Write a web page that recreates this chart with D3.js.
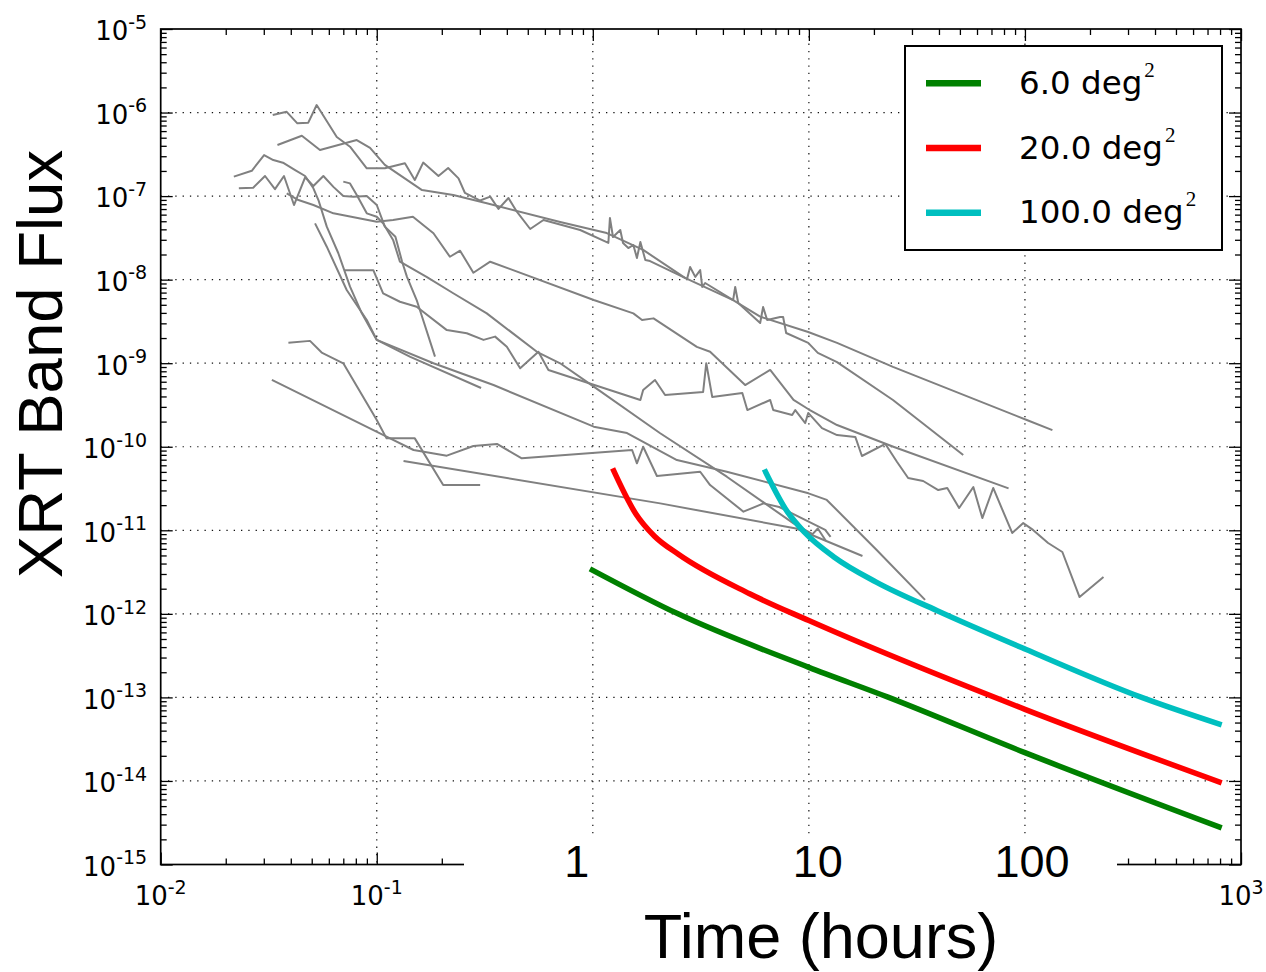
<!DOCTYPE html>
<html><head><meta charset="utf-8">
<script src="https://cdn.jsdelivr.net/npm/d3@7"></script>
<style>html,body{margin:0;padding:0;background:#fff;}svg{display:block}</style>
</head><body>
<svg id="chart" width="1266" height="972"></svg>
<script>
// ---------------- DATA (time in hours, flux) ----------------
const xTickExps = [-2, -1, 0, 1, 2, 3];
const xLabelExps = [-2, -1, 3];           // exponent labels left visible
const yTickExps = [-15, -14, -13, -12, -11, -10, -9, -8, -7, -6, -5];
const hourLabels = ["1", "10", "100"];
const hourValues = [1, 10, 100];

const lcA = [[0.0330,9.35e-7],[0.0383,1.02e-6],[0.0429,7.43e-7],[0.0482,7.57e-7],[0.0527,1.23e-6],[0.0653,5.09e-7],[0.0752,3.90e-7],[0.0899,2.15e-7],[0.109,2.15e-7],[0.135,2.47e-7],[0.150,1.56e-7],[0.164,2.52e-7],[0.193,1.74e-7],[0.214,2.17e-7],[0.239,1.63e-7],[0.256,1.09e-7],[0.301,8.85e-8],[0.335,9.84e-8],[0.366,7.02e-8],[0.407,9.48e-8],[0.445,6.50e-8],[0.513,4.04e-8],[0.591,5.18e-8],[0.874,3.93e-8],[1.18,2.75e-8],[1.20,5.47e-8],[1.24,3.24e-8],[1.34,3.93e-8],[1.38,2.75e-8],[1.46,2.39e-8],[1.54,2.60e-8],[1.60,1.82e-8],[1.66,2.82e-8],[1.75,1.72e-8],[1.84,1.67e-8],[2.73,1.02e-8],[2.82,1.42e-8],[2.98,1.08e-8],[3.14,1.30e-8],[3.21,8.17e-9],[3.31,9.12e-9],[4.46,5.70e-9],[4.56,8.17e-9],[4.71,5.26e-9],[5.95,3.03e-9],[6.14,4.71e-9],[6.41,3.29e-9],[7.36,3.57e-9],[7.60,3.57e-9],[7.85,2.30e-9],[9.93,1.75e-9],[11.0,1.33e-9],[13.5,1.03e-9],[24.5,3.63e-10],[51.8,7.96e-11]];
const lcB = [[0.0347,4.09e-7],[0.0450,5.28e-7],[0.0546,3.56e-7],[0.0808,4.69e-7],[0.0931,3.77e-7],[0.109,2.36e-7],[0.162,1.18e-7],[0.226,1.03e-7],[0.323,8.20e-8],[0.706,4.90e-8],[1.16,3.61e-8],[1.71,2.27e-8],[2.67,1.05e-8],[4.46,5.70e-9],[5.95,3.61e-9],[9.93,2.36e-9],[13.5,1.75e-9],[24.5,9.02e-10],[102,2.09e-10],[134,1.58e-10]];
const lcC = [[0.0218,1.71e-7],[0.0264,2.01e-7],[0.0301,3.10e-7],[0.0332,2.70e-7],[0.0368,2.51e-7],[0.0419,2.05e-7],[0.0466,1.74e-7],[0.0509,1.24e-7],[0.0537,8.97e-8],[0.0587,4.31e-8],[0.0664,2.07e-8],[0.0752,8.24e-9],[0.0853,3.95e-9],[0.100,1.90e-9],[0.183,9.98e-10],[0.347,5.48e-10],[1.01,1.74e-10],[1.44,1.46e-10],[2.45,6.93e-11],[4.17,5.02e-11],[9.96,2.77e-11],[12.1,2.31e-11],[20.6,5.81e-12],[34.5,1.47e-12]];
const lcD = [[0.0230,1.24e-7],[0.0268,1.26e-7],[0.0304,1.74e-7],[0.0338,1.21e-7],[0.0372,1.74e-7],[0.0414,7.82e-8],[0.0466,1.68e-7],[0.0509,1.32e-7],[0.0566,1.74e-7],[0.0630,1.29e-7],[0.0700,1.00e-7],[0.0780,9.84e-8],[0.0899,1.00e-7],[0.100,7.82e-8],[0.109,4.31e-8],[0.122,3.27e-8],[0.131,1.64e-8],[0.138,1.08e-8],[0.153,5.70e-9],[0.186,1.20e-9]];
const lcE = [[0.0700,1.49e-7],[0.0752,1.42e-7],[0.0808,1.03e-7],[0.0899,6.22e-8],[0.100,5.66e-8],[0.107,4.72e-8],[0.119,2.99e-8],[0.128,1.64e-8],[0.170,1.08e-8],[0.226,6.87e-9],[0.323,3.95e-9],[0.551,1.37e-9],[0.706,9.98e-10],[1.01,5.24e-10],[2.05,1.45e-10],[4.17,4.38e-11],[8.49,1.21e-11],[10.4,9.0e-12],[11.0,1.05e-11],[12.0,7.44e-12]];
const lcF = [[0.0390,1.76e-9],[0.0491,1.85e-9],[0.0556,1.34e-9],[0.0700,9.98e-10],[0.100,2.09e-10],[0.111,1.26e-10],[0.150,1.26e-10],[0.203,3.48e-11],[0.301,3.48e-11]];
const lcG = [[0.0327,6.30e-10],[0.111,1.32e-10],[0.148,9.14e-11],[0.211,7.82e-11],[0.280,1.02e-10],[0.360,1.08e-10],[0.469,7.28e-11],[1.52,9.14e-11],[1.60,6.34e-11],[1.71,1.00e-10],[1.98,4.47e-11],[3.14,5.02e-11],[3.49,3.48e-11],[4.98,1.67e-11],[6.17,2.10e-11],[7.29,1.90e-11],[11.9,1.01e-11],[12.6,8.32e-12]];
const lcH = [[0.133,6.75e-11],[2.05,2.10e-11],[8.73,1.05e-11],[17.7,4.92e-12]];
const lcI = [[0.0383,1.08e-7],[0.0434,8.97e-8],[0.0509,7.82e-8],[0.0630,6.22e-8],[0.100,4.94e-8],[0.119,5.18e-8],[0.147,5.66e-8],[0.183,3.59e-8],[0.218,1.88e-8],[0.243,2.22e-8],[0.280,1.21e-8],[0.335,1.64e-8],[1.01,5.70e-9],[1.54,3.95e-9],[1.69,3.29e-9],[1.91,3.44e-9],[3.03,1.57e-9],[3.49,1.37e-9],[5.07,5.48e-10],[6.62,8.30e-10],[8.49,3.63e-10],[9.96,2.81e-10],[13.5,1.82e-10],[24.6,1.00e-10],[84.0,3.18e-11]];
const lcJ = [[0.0713,1.30e-8],[0.0964,1.30e-8],[0.107,6.87e-9],[0.128,5.44e-9],[0.153,4.74e-9],[0.211,2.49e-9],[0.261,2.28e-9],[0.312,1.90e-9],[0.353,2.08e-9],[0.400,1.57e-9],[0.461,8.69e-10],[0.560,1.37e-9],[0.623,8.30e-10],[1.66,3.63e-10],[1.71,4.78e-10],[1.94,6.30e-10],[2.16,4.16e-10],[3.24,4.52e-10],[3.35,1.00e-9],[3.57,3.94e-10],[4.92,4.40e-10],[5.19,2.75e-10],[6.62,3.63e-10],[6.84,2.75e-10],[8.37,2.40e-10],[8.65,2.75e-10],[9.62,1.92e-10],[9.93,2.54e-10],[11.5,1.67e-10],[13.5,1.38e-10],[16.4,1.31e-10],[17.6,7.75e-11],[22.6,1.08e-10],[25.6,6.56e-11],[28.8,4.23e-11],[33.8,3.89e-11],[39.7,3.03e-11],[43.7,3.21e-11],[49.6,1.85e-11],[57.7,3.30e-11],[63.5,1.40e-11],[71.3,3.21e-11],[87.3,9.29e-12],[98.2,1.22e-11],[109,1.01e-11],[128,7.05e-12],[149,5.50e-12],[179,1.59e-12],[231,2.76e-12]];
const lcK = [[0.0518,4.72e-8],[0.0587,2.48e-8],[0.0726,7.52e-9],[0.0899,3.29e-9],[0.100,1.90e-9],[0.143,1.19e-9],[0.304,5.05e-10]];

const modelNames = ["6.0 deg", "20.0 deg", "100.0 deg"];
const model6_t   = [0.97, 2.48, 10, 23.4, 100, 814];
const model6_f   = [3.46e-12, 1.0e-12, 2.29e-13, 1.0e-13, 2.18e-14, 2.74e-15];
const model20_t  = [1.235, 1.58, 1.93, 2.48, 5.32, 10, 100, 814];
const model20_f  = [5.5e-11, 1.58e-11, 8.5e-12, 5.2e-12, 1.74e-12, 8.3e-13, 7.2e-14, 9.5e-15];
const model100_t = [6.22, 7.96, 9.53, 13.06, 20.5, 39.3, 100, 347, 814];
const model100_f = [5.36e-11, 1.66e-11, 9.5e-12, 4.8e-12, 2.4e-12, 1.09e-12, 3.8e-13, 1.0e-13, 4.69e-14];

// ---------------- LAYOUT ----------------
const X0 = 160.7, X1 = 1241, Y0 = 29, Y1 = 864.5;
const colors = ["#008000", "#ff0000", "#00bfbf"];
const svg = d3.select("#chart");
const g = svg.append("g");

const x = d3.scaleLog().domain([1e-2, 1e3]).range([X0, X1]);
const y = d3.scaleLog().domain([1e-15, 1e-5]).range([Y1, Y0]);

const majorX = xTickExps.map(e => Math.pow(10, e));
const majorY = yTickExps.map(e => Math.pow(10, e));
const minorOf = exps => { const out = []; for (let i = 0; i < exps.length - 1; i++) for (let m = 2; m <= 9; m++) out.push(m * Math.pow(10, exps[i])); return out; };
const minorX = minorOf(xTickExps), minorY = minorOf(yTickExps);

// grid
const grid = g.append("g").attr("stroke", "#111").attr("stroke-width", 1.2).attr("stroke-dasharray", "1.3 6");
grid.selectAll("line.gx").data(majorX.slice(1, -1)).join("line")
  .attr("x1", d => x(d)).attr("x2", d => x(d)).attr("y1", Y0).attr("y2", Y1);
grid.selectAll("line.gy").data(majorY.slice(1, -1)).join("line").attr("class","gy")
  .attr("y1", d => y(d)).attr("y2", d => y(d)).attr("x1", X0).attr("x2", X1);

// light curves
const line = d3.line().x(d => x(d[0])).y(d => y(d[1]));
const grays = [lcA, lcB, lcC, lcD, lcE, lcF, lcG, lcH, lcI, lcJ, lcK];
g.append("g").selectAll("path").data(grays).join("path")
  .attr("d", line).attr("fill", "none").attr("stroke", "#808080")
  .attr("stroke-width", 2).attr("stroke-linejoin", "round");

// models
const models = [[model6_t, model6_f], [model20_t, model20_f], [model100_t, model100_f]]
  .map(([t, f]) => t.map((v, i) => [v, f[i]]));
const mline = d3.line().x(d => x(d[0])).y(d => y(d[1])).curve(d3.curveMonotoneX);
g.append("g").selectAll("path").data(models).join("path")
  .attr("d", mline).attr("fill", "none").attr("stroke", (d, i) => colors[i])
  .attr("stroke-width", 5.5);

// axes (ticks inward, all four sides)
function addAxis(gen, tr) {
  const a = g.append("g").attr("transform", tr).call(gen);
  a.select(".domain").remove();
  a.selectAll(".tick text").remove();
  a.selectAll(".tick line").attr("stroke", "#000").attr("stroke-width", 1.3);
}
addAxis(d3.axisBottom(x).tickValues(majorX).tickSizeInner(-12).tickSizeOuter(0), `translate(0,${Y1})`);
addAxis(d3.axisBottom(x).tickValues(minorX).tickSizeInner(-6).tickSizeOuter(0), `translate(0,${Y1})`);
addAxis(d3.axisTop(x).tickValues(majorX).tickSizeInner(-12).tickSizeOuter(0), `translate(0,${Y0})`);
addAxis(d3.axisTop(x).tickValues(minorX).tickSizeInner(-6).tickSizeOuter(0), `translate(0,${Y0})`);
addAxis(d3.axisLeft(y).tickValues(majorY).tickSizeInner(-12).tickSizeOuter(0), `translate(${X0},0)`);
addAxis(d3.axisLeft(y).tickValues(minorY).tickSizeInner(-6).tickSizeOuter(0), `translate(${X0},0)`);
addAxis(d3.axisRight(y).tickValues(majorY).tickSizeInner(-12).tickSizeOuter(0), `translate(${X1},0)`);
addAxis(d3.axisRight(y).tickValues(minorY).tickSizeInner(-6).tickSizeOuter(0), `translate(${X1},0)`);

g.append("rect").attr("x", X0).attr("y", Y0).attr("width", X1 - X0).attr("height", Y1 - Y0)
  .attr("fill", "none").attr("stroke", "#000").attr("stroke-width", 1.7);

const expStr = e => (e < 0 ? "-" + (-e) : String(e));
// y tick labels
const yl = g.append("g").attr("font-family", "DejaVu Sans").attr("fill", "#000");
yTickExps.forEach(e => {
  const t = yl.append("text").attr("x", X0 - 13.5).attr("y", y(Math.pow(10, e)) + 11.3)
    .attr("text-anchor", "end").attr("font-size", 26);
  t.append("tspan").text("10");
  t.append("tspan").attr("dy", -11.5).attr("font-size", 19).text(expStr(e));
});
// x tick labels
xLabelExps.forEach(e => {
  const t = yl.append("text").attr("x", x(Math.pow(10, e))).attr("y", Y1 + 40.5)
    .attr("text-anchor", "middle").attr("font-size", 26);
  t.append("tspan").text("10");
  t.append("tspan").attr("dy", -11.5).attr("font-size", 19).text(expStr(e));
});

// white patch over part of the bottom axis, with large hour labels
g.append("rect").attr("x", 464).attr("y", 836).attr("width", 653).attr("height", 76).attr("fill", "#fff");
const hourShift = [-16, 9, 7];
g.append("g").selectAll("text").data(hourLabels).join("text")
  .attr("x", (d, i) => x(hourValues[i]) + hourShift[i]).attr("y", 877)
  .attr("text-anchor", "middle").attr("font-family", "Liberation Sans, Arial").attr("font-size", 45)
  .text(d => d);

// axis titles
g.append("text").attr("x", 821).attr("y", 958).attr("text-anchor", "middle")
  .attr("font-family", "Liberation Sans, Arial").attr("font-size", 63).text("Time (hours)");
g.append("text").attr("transform", "translate(62,364) rotate(-90)").attr("text-anchor", "middle")
  .attr("font-family", "Liberation Sans, Arial").attr("font-size", 63.5).text("XRT Band Flux");

// legend
const lg = g.append("g");
lg.append("rect").attr("x", 905).attr("y", 46).attr("width", 317).attr("height", 204)
  .attr("fill", "#fff").attr("stroke", "#000").attr("stroke-width", 2);
modelNames.forEach((name, i) => {
  const ly = 83.3 + i * 64.7;
  lg.append("line").attr("x1", 926).attr("x2", 981).attr("y1", ly).attr("y2", ly)
    .attr("stroke", colors[i]).attr("stroke-width", 6.5);
  const t = lg.append("text").attr("x", 1019).attr("y", ly + 10.7)
    .attr("font-family", "DejaVu Sans").attr("font-size", 32.5).attr("fill", "#000");
  t.append("tspan").text(name);
  t.append("tspan").attr("dx", 2).attr("dy", -17).attr("font-family", "Liberation Serif, serif")
    .attr("font-size", 21).text("2");
});
</script>
</body></html>
